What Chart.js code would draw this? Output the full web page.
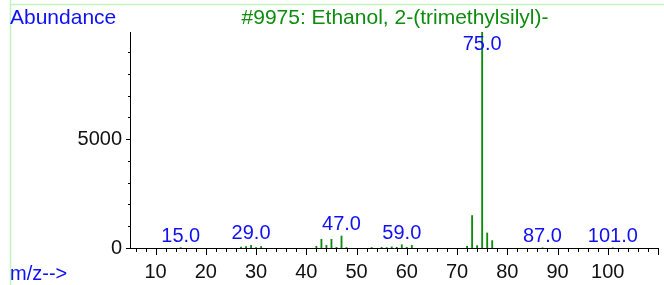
<!DOCTYPE html>
<html>
<head>
<meta charset="utf-8">
<script src="https://cdn.jsdelivr.net/npm/chart.js@4.4.1/dist/chart.umd.min.js"></script>
<style>
html, body { margin: 0; padding: 0; background: #fff; }
canvas { display: block; }
</style>
</head>
<body>
<canvas id="msChart" width="664" height="285"></canvas>
<script>
// spectrum peaks (m/z and abundance)
const massValues = [15, 27, 28, 29, 30, 31, 42, 43, 44, 45, 46, 47, 48, 53, 55, 56, 57, 58, 59, 60, 61, 72, 73, 74, 75, 76, 77, 87, 101];
const abundances = [20, 40, 60, 120, 20, 70, 80, 400, 120, 400, 30, 550, 20, 20, 30, 20, 50, 30, 150, 30, 120, 80, 1490, 110, 9999, 690, 340, 10, 10];

// peaks that carry a mass label
const labeledMasses = [15, 29, 47, 59, 75, 87, 101];
const labelTexts = ['15.0', '29.0', '47.0', '59.0', '75.0', '87.0', '101.0'];

const yLabelValues = [0, 5000];
const xLabelValues = [10, 20, 30, 40, 50, 60, 70, 80, 90, 100];
const titleText = '#9975: Ethanol, 2-(trimethylsilyl)-';

const FAMILY = '"Liberation Sans", Arial, sans-serif';
const BLUE = '#1010f5';
const GREEN = '#0e8c0e';

const ctx = document.getElementById('msChart').getContext('2d');

const decorPlugin = {
    id: 'decor',
    afterDraw(chart) {
        const c = chart.ctx;
        const xs = chart.scales.x;
        const ys = chart.scales.y;
        const area = chart.chartArea;
        c.save();

        // light green frame
        c.strokeStyle = '#bff3bf';
        c.lineWidth = 1.5;
        c.beginPath();
        c.moveTo(10, 4.5);
        c.lineTo(664, 4.5);
        c.moveTo(10.5, 0);
        c.lineTo(10.5, 285);
        c.stroke();

        // tick marks
        c.strokeStyle = '#000';
        c.lineWidth = 1;
        c.beginPath();
        for (let v = 6; v <= 110; v += 2) {
            const px = Math.round(xs.getPixelForValue(v)) + 0.5;
            const len = v % 10 === 0 ? 7 : 4;
            c.moveTo(px, area.bottom);
            c.lineTo(px, area.bottom + len);
        }
        for (let v = 0; v <= 9000; v += 1000) {
            const py = Math.round(ys.getPixelForValue(v)) + 0.5;
            const len = v % 5000 === 0 ? 4 : 2;
            c.moveTo(area.left, py);
            c.lineTo(area.left - len, py);
        }
        c.stroke();

        // texts
        c.font = '21px ' + FAMILY;
        c.textBaseline = 'middle';
        c.fillStyle = BLUE;
        c.textAlign = 'left';
        c.fillText('Abundance', 10, 18);
        c.font = '20px ' + FAMILY;
        c.fillText('m/z-->', 10, 274);

        c.font = '21px ' + FAMILY;
        c.fillStyle = GREEN;
        c.textAlign = 'center';
        c.fillText(titleText, 395, 18);

        // peak labels
        c.font = '20px ' + FAMILY;
        c.fillStyle = BLUE;
        labeledMasses.forEach((m, i) => {
            const idx = massValues.indexOf(m);
            const px = xs.getPixelForValue(m);
            const py = ys.getPixelForValue(abundances[idx]);
            const ly = Math.max(py - 11.5, 44);
            c.fillText(labelTexts[i], px, ly);
        });
        c.restore();
    }
};

const myChart = new Chart(ctx, {
    type: 'bar',
    data: {
        datasets: [{
            data: massValues.map((m, i) => ({ x: m, y: abundances[i] })),
            backgroundColor: GREEN,
            barThickness: 1.2,
            grouped: false
        }]
    },
    options: {
        responsive: false,
        animation: false,
        layout: { padding: { top: 32, right: 6, left: 0, bottom: 0 } },
        plugins: {
            legend: { display: false },
            tooltip: { enabled: false }
        },
        scales: {
            x: {
                type: 'linear',
                offset: false,
                min: 4.9,
                max: 110,
                afterBuildTicks: (scale) => { scale.ticks = xLabelValues.map(v => ({ value: v })); },
                afterFit: (scale) => { scale.height = 37; },
                grid: { display: false, drawTicks: false, offset: false },
                border: { display: true, color: '#000', width: 1 },
                ticks: {
                    autoSkip: false,
                    maxRotation: 0,
                    padding: 12,
                    color: '#111',
                    font: { family: FAMILY, size: 20 },
                    callback: (v) => String(v)
                }
            },
            y: {
                min: 0,
                max: 9920,
                afterBuildTicks: (scale) => { scale.ticks = yLabelValues.map(v => ({ value: v })); },
                afterFit: (scale) => { scale.width = 130; },
                grid: { display: false, drawTicks: false },
                border: { display: true, color: '#000', width: 1 },
                ticks: {
                    autoSkip: false,
                    padding: 8,
                    color: '#111',
                    font: { family: FAMILY, size: 20 },
                    callback: (v) => String(v)
                }
            }
        }
    },
    plugins: [decorPlugin]
});
</script>
</body>
</html>
